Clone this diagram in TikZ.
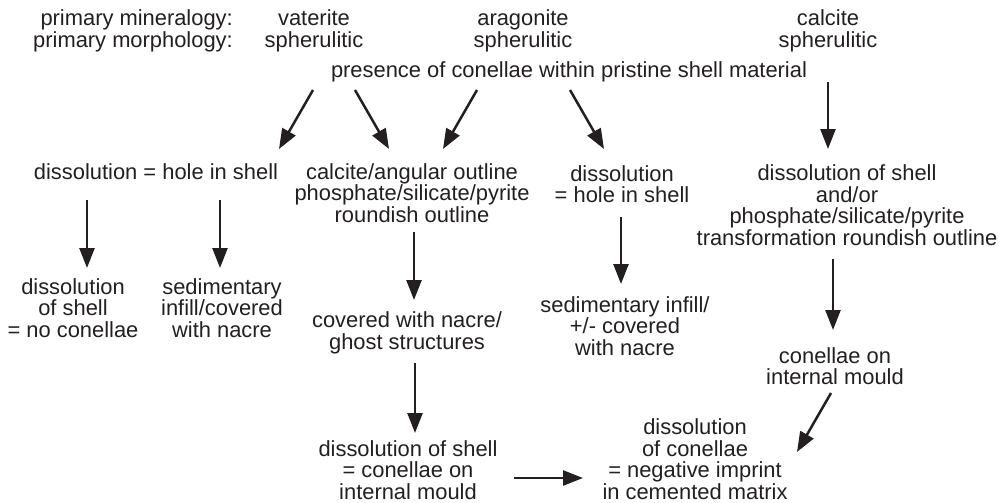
\documentclass[tikz,border=0pt]{standalone}
\usepackage{fontspec}
\setmainfont{Liberation Sans}
\usetikzlibrary{arrows.meta}
\definecolor{ink}{HTML}{231F20}
\begin{document}
\begin{tikzpicture}[x=1pt,y=-1pt,
  txt/.style={text=ink,align=center,inner sep=0pt,font=\fontsize{21.9}{21.6}\selectfont},
  arr/.style={draw=ink,line width=2.5pt,-{Triangle[length=20pt,width=15pt]}}]
\useasboundingbox (0,0) rectangle (999,503);
% header labels
\node[txt,anchor=east] (lmin) at (233,20) {primary mineralogy:};
\node[txt,anchor=east] (lmor) at (233,42) {primary morphology:};
\node[txt] (vat) at (314,31) {vaterite\\spherulitic};
\node[txt] (ara) at (523,31) {aragonite\\spherulitic};
\node[txt] (cal) at (828,31) {calcite\\spherulitic};
\node[txt] (pres) at (569,72) {presence of conellae within pristine shell material};
% row 2
\node[txt] (d1) at (156,172) {dissolution = hole in shell};
\node[txt] (c1) at (412,193) {calcite/angular outline\\phosphate/silicate/pyrite\\roundish outline};
\node[txt] (d2) at (622,184) {dissolution\\= hole in shell};
\node[txt] (r1) at (847,205) {dissolution of shell\\and/or\\phosphate/silicate/pyrite\\transformation roundish outline};
% row 3
\node[txt] (n1) at (73,308) {dissolution\\of shell\\= no conellae};
\node[txt] (s1) at (222,308) {sedimentary\\infill/covered\\with nacre};
\node[txt] (g1) at (407,333) {covered with nacre/\\ghost structures};
\node[txt] (s2) at (625,326) {sedimentary infill/\\+/- covered\\with nacre};
\node[txt] (m1) at (835,366) {conellae on\\internal mould};
% bottom
\node[txt] (b1) at (408,470) {dissolution of shell\\= conellae on\\internal mould};
\node[txt] (b2) at (695,459) {dissolution\\of conellae\\= negative imprint\\in cemented matrix};
% connector end points
\coordinate (a1s) at (313,90);  \coordinate (a1e) at (279,149);
\coordinate (a2s) at (355,90);  \coordinate (a2e) at (389,149);
\coordinate (a3s) at (477,90);  \coordinate (a3e) at (443,149);
\coordinate (a4s) at (570,90);  \coordinate (a4e) at (604,149);
\coordinate (a5s) at (828,82);  \coordinate (a5e) at (828,149);
\coordinate (a6s) at (87,200);  \coordinate (a6e) at (87,268);
\coordinate (a7s) at (220,200); \coordinate (a7e) at (220,268);
\coordinate (a8s) at (414,232); \coordinate (a8e) at (414,300);
\coordinate (a9s) at (621,217); \coordinate (a9e) at (621,284);
\coordinate (a10s) at (833,259); \coordinate (a10e) at (833,330);
\coordinate (a11s) at (415,363); \coordinate (a11e) at (415,433);
\coordinate (a12s) at (514,478); \coordinate (a12e) at (583,478);
\coordinate (a13s) at (831,393); \coordinate (a13e) at (797,452);
\foreach \i in {1,...,13} \draw[arr] (a\i s) -- (a\i e);
\end{tikzpicture}
\end{document}
